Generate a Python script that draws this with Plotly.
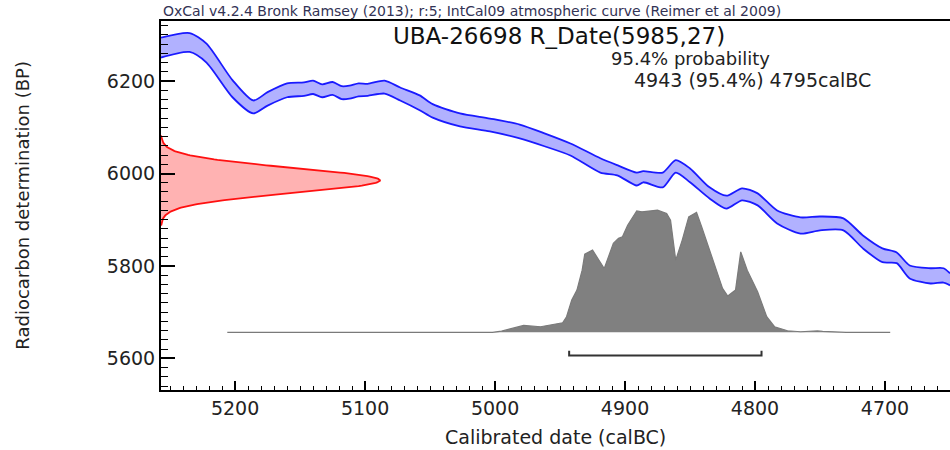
import numpy as np
import plotly.graph_objects as go

# IntCal09 calibration curve (1-sigma envelope), calendar years BC vs BP
cal_years = [5257, 5235, 5222, 5202, 5186, 5175, 5160, 5147, 5140, 5133, 5125, 5118,
             5112, 5105, 5098, 5085, 5073, 5058, 5048, 5027, 5004, 4981, 4962, 4942,
             4919, 4906, 4891, 4886, 4871, 4861, 4850, 4835, 4822, 4810, 4798, 4783,
             4765, 4750, 4732, 4717, 4702, 4691, 4681, 4665, 4655, 4650]
curve_upper = [6294, 6304, 6281, 6202, 6158, 6176, 6195, 6197, 6201, 6193, 6198, 6189,
               6190, 6195, 6194, 6201, 6186, 6169, 6150, 6130, 6119, 6106, 6087, 6065,
               6033, 6018, 6002, 6005, 6002, 6029, 6011, 5970, 5952, 5968, 5957, 5920,
               5905, 5907, 5903, 5866, 5838, 5829, 5801, 5795, 5795, 5784]
curve_lower = [6251, 6263, 6240, 6165, 6130, 6147, 6165, 6168, 6172, 6165, 6170, 6161,
               6162, 6167, 6168, 6173, 6158, 6137, 6121, 6102, 6091, 6076, 6059, 6039,
               6002, 5996, 5974, 5981, 5970, 6002, 5981, 5946, 5924, 5942, 5931, 5892,
               5870, 5877, 5877, 5838, 5808, 5806, 5773, 5762, 5764, 5758]

# Radiocarbon measurement
lab_code = "UBA-26698"
c14_age = 5985
c14_err = 27

# Calibrated probability distribution (relative)
post_cal = [5206, 5002, 4995, 4983, 4978, 4965, 4955, 4948, 4945, 4941, 4937, 4933,
            4931, 4925, 4916, 4909, 4905, 4902, 4898, 4891, 4887, 4875, 4868, 4865,
            4861, 4856, 4851, 4845, 4841, 4833, 4825, 4821, 4815, 4811, 4806, 4798,
            4791, 4785, 4775, 4765, 4752, 4748, 4744, 4730, 4696]
post_prob = [0, 0, 0.01, 0.046, 0.057, 0.046, 0.068, 0.078, 0.128, 0.264, 0.346, 0.509,
             0.64, 0.673, 0.523, 0.728, 0.769, 0.782, 0.877, 0.994, 0.986, 1.0, 0.973, 0.918,
             0.591, 0.755, 0.945, 0.981, 0.863, 0.618, 0.36, 0.297, 0.346, 0.659, 0.509, 0.332,
             0.128, 0.046, 0.013, 0.005, 0.012, 0.008, 0.006, 0, 0]

# 95.4% highest probability range
range_from = 4943
range_to = 4795
range_pct = 95.4

x_ticks = [5200, 5100, 5000, 4900, 4800, 4700]
y_ticks = [5600, 5800, 6000, 6200]

FONT = "DejaVu Sans"
TXT = "#222222"

fig = go.Figure()

# calibration curve band
fig.add_trace(go.Scatter(x=cal_years, y=curve_lower, mode="lines",
                         line=dict(color="#1a1aff", width=1.8, shape="spline", smoothing=0.7),
                         hoverinfo="skip"))
fig.add_trace(go.Scatter(x=cal_years, y=curve_upper, mode="lines", fill="tonexty",
                         fillcolor="rgba(40,40,255,0.36)",
                         line=dict(color="#1a1aff", width=1.8, shape="spline", smoothing=0.7),
                         hoverinfo="skip"))

# normal likelihood of the radiocarbon measurement on the BP axis
bp = np.linspace(c14_age - 3.6 * c14_err, c14_age + 3.6 * c14_err, 200)
dens = np.exp(-0.5 * ((bp - c14_age) / c14_err) ** 2)
fig.add_trace(go.Scatter(x=np.concatenate([[0], dens, [0]]),
                         y=np.concatenate([[bp[0]], bp, [bp[-1]]]),
                         xaxis="x2", yaxis="y", mode="lines", fill="toself",
                         fillcolor="rgba(255,0,0,0.3)",
                         line=dict(color="#ff1010", width=1.8), hoverinfo="skip"))

# calibrated distribution
fig.add_trace(go.Scatter(x=post_cal, y=post_prob, yaxis="y2", mode="lines",
                         fill="tozeroy", fillcolor="#808080",
                         line=dict(color="#7a7a7a", width=1.2), hoverinfo="skip"))

# range bracket
fig.add_trace(go.Scatter(x=[range_from, range_from, range_to, range_to],
                         y=[-0.15, -0.19, -0.19, -0.15], yaxis="y2", mode="lines",
                         line=dict(color="#333333", width=2), hoverinfo="skip"))

fig.update_layout(
    width=950, height=450,
    margin=dict(l=161, r=0, t=21, b=60),
    paper_bgcolor="white", plot_bgcolor="white",
    showlegend=False,
    font=dict(family=FONT, color=TXT),
    xaxis=dict(range=[5257, 4650], tickmode="array", tickvals=x_ticks,
               ticktext=[str(v) for v in x_ticks],
               ticks="inside", ticklen=9, tickwidth=1.5, tickcolor="black",
               minor=dict(dtick=10, tick0=0, ticks="inside", ticklen=4,
                          tickwidth=1.2, tickcolor="black"),
               showline=True, linecolor="black", linewidth=2, mirror=True,
               showgrid=False, zeroline=False,
               tickfont=dict(size=19, family=FONT, color=TXT)),
    yaxis=dict(range=[5531.5, 6330], tickmode="array", tickvals=y_ticks,
               ticktext=[str(v) for v in y_ticks],
               ticks="inside", ticklen=14, tickwidth=1.5, tickcolor="black",
               minor=dict(dtick=20, tick0=0, ticks="inside", ticklen=7,
                          tickwidth=1.2, tickcolor="black"),
               showline=True, linecolor="black", linewidth=2, mirror=False,
               showgrid=False, zeroline=False,
               tickfont=dict(size=19, family=FONT, color=TXT)),
    xaxis2=dict(overlaying="x", anchor="y", range=[0, 3.603], visible=False),
    yaxis2=dict(overlaying="y", anchor="x", range=[-0.4716, 2.5477], visible=False),
)

ann = [
    dict(text="OxCal v4.2.4 Bronk Ramsey (2013); r:5; IntCal09 atmospheric curve (Reimer et al 2009)",
         x=0, y=1.0, xanchor="left", yanchor="bottom", font=dict(size=14, color="#333355")),
    dict(text=f"{lab_code} R_Date({c14_age},{c14_err})",
         x=0.5044, y=0.9599, xanchor="center", yanchor="middle", font=dict(size=23, color="#111111")),
    dict(text=f"{range_pct}% probability",
         x=0.6717, y=0.899, xanchor="center", yanchor="middle", font=dict(size=18, color=TXT)),
    dict(text=f"{range_from} ({range_pct}%) {range_to}calBC",
         x=0.7497, y=0.8394, xanchor="center", yanchor="middle", font=dict(size=19, color=TXT)),
    dict(text="Calibrated date (calBC)",
         x=0.5, y=-0.127, xanchor="center", yanchor="middle", font=dict(size=19, color=TXT)),
    dict(text="Radiocarbon determination (BP)", textangle=-90,
         x=-0.176, y=0.5, xanchor="center", yanchor="middle", font=dict(size=18, color=TXT)),
]
for a in ann:
    a.update(xref="paper", yref="paper", showarrow=False)
fig.update_layout(annotations=ann)

fig.write_html("out.html")
